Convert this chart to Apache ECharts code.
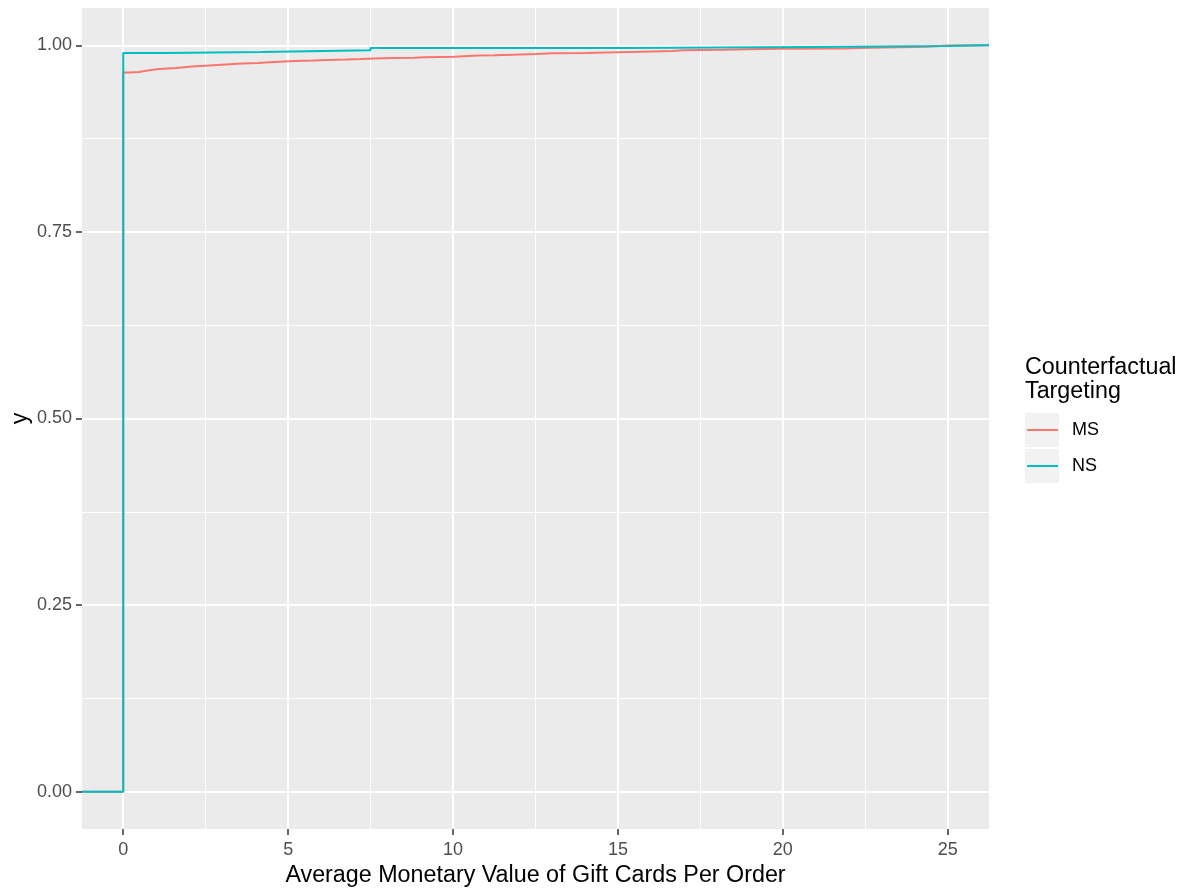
<!DOCTYPE html>
<html>
<head>
<meta charset="utf-8">
<title>ECDF of gift card value per order</title>
<script src="https://cdn.jsdelivr.net/npm/echarts@6/dist/echarts.min.js"></script>
<style>
  html, body { margin: 0; padding: 0; background: #ffffff; }
  #chart { width: 1186px; height: 893px; }
</style>
</head>
<body>
<div id="chart"></div>
<script>
// Axis extents (ggplot-style 5% expansion around the data range)
const xMin = -1.25, xMax = 26.25;
const yMin = -0.05, yMax = 1.05;

// Tick positions
const xMajorTicks = [0, 5, 10, 15, 20, 25];
const xMinorTicks = [2.5, 7.5, 12.5, 17.5, 22.5];
const yMajorTicks = [0, 0.25, 0.5, 0.75, 1];
const yMinorTicks = [0.125, 0.375, 0.625, 0.875];

// Series names
const seriesNames = ['MS', 'NS'];

// Empirical CDF step points: MS
const msX = [xMin, 0, 0.18, 0.48, 0.79, 1.09, 1.6, 2.1, 2.6, 3.1, 3.6, 4.1, 4.43, 4.73, 5.2, 5.74, 6.2,
  6.75, 7.2, 7.61, 8.2, 8.83, 9.13, 10.04, 10.75, 11.25, 11.81, 12.52, 13.02, 14.08, 14.33, 15.29,
  15.7, 16.66, 16.96, 17.52, 18.23, 19.39, 20.0, 21.87, 22.26, 24.36, 25.0, xMax];
const msY = [0, 0.9635, 0.9643, 0.9665, 0.9683, 0.9696, 0.9715, 0.9728, 0.9742, 0.9755, 0.9763, 0.9772,
  0.9780, 0.9790, 0.9796, 0.9803, 0.9810, 0.9817, 0.9824, 0.9830, 0.9835, 0.9839, 0.9848, 0.9862,
  0.9866, 0.9875, 0.9884, 0.9893, 0.9897, 0.9902, 0.9911, 0.9915, 0.9924, 0.9933, 0.9938, 0.9942,
  0.9951, 0.9955, 0.9958, 0.9964, 0.9982, 0.9996, 1.0, 1.0];

// Empirical CDF step points: NS
const nsX = [xMin, 0, 1.3, 4.17, 7.5, 15.3, 20.9, 25.0, xMax];
const nsY = [0, 0.9898, 0.9910, 0.9935, 0.9963, 0.9977, 0.9990, 1.0, 1.0];

const colors = ['#F8766D', '#00BFC4'];
const FONT = '"Liberation Sans", Arial, sans-serif';

const zip = (xs, ys) => xs.map((x, i) => [x, ys[i]]);

const chart = echarts.init(document.getElementById('chart'), null, { renderer: 'canvas' });

chart.setOption({
  animation: false,
  backgroundColor: '#ffffff',
  textStyle: { fontFamily: FONT },
  grid: {
    left: 82, top: 8, width: 907, height: 821,
    containLabel: false, outerBoundsMode: 'none',
    show: true, backgroundColor: '#EBEBEB', borderWidth: 0
  },
  xAxis: [
    // minor grid lines
    {
      type: 'value', min: xMin, max: xMax, position: 'bottom',
      axisLine: { show: false, onZero: false },
      axisLabel: { show: false },
      axisTick: { show: false, customValues: xMinorTicks },
      splitLine: { show: true, lineStyle: { color: '#ffffff', width: 1 } }
    },
    // major ticks, labels and grid lines
    {
      type: 'value', min: xMin, max: xMax, position: 'bottom',
      name: 'Average Monetary Value of Gift Cards Per Order',
      nameLocation: 'middle', nameGap: 33,
      nameTextStyle: { fontSize: 23.3, color: '#000000', fontFamily: FONT },
      axisLine: { show: false, onZero: false },
      axisTick: { show: true, length: 6, customValues: xMajorTicks, lineStyle: { color: '#333333', width: 1.5 } },
      axisLabel: { show: true, customValues: xMajorTicks, margin: 12, fontSize: 18, color: '#4D4D4D', fontFamily: FONT },
      splitLine: { show: true, lineStyle: { color: '#ffffff', width: 2 } }
    }
  ],
  yAxis: [
    {
      type: 'value', min: yMin, max: yMax, position: 'left',
      axisLine: { show: false, onZero: false },
      axisLabel: { show: false },
      axisTick: { show: false, customValues: yMinorTicks },
      splitLine: { show: true, lineStyle: { color: '#ffffff', width: 1 } }
    },
    {
      type: 'value', min: yMin, max: yMax, position: 'left',
      name: 'y', nameLocation: 'middle', nameGap: 50, nameRotate: 90, nameMoveOverlap: false,
      nameTextStyle: { fontSize: 23.3, color: '#000000', fontFamily: FONT },
      axisLine: { show: false, onZero: false },
      axisTick: { show: true, length: 6, customValues: yMajorTicks, lineStyle: { color: '#333333', width: 1.5 } },
      axisLabel: { show: true, customValues: yMajorTicks, margin: 10, fontSize: 18, color: '#4D4D4D', fontFamily: FONT,
        formatter: v => v.toFixed(2) },
      splitLine: { show: true, lineStyle: { color: '#ffffff', width: 2 } }
    }
  ],
  legend: {
    orient: 'vertical', left: 1027, top: 413, padding: 0,
    icon: 'rect', itemWidth: 31, itemHeight: 2, itemGap: 2,
    data: seriesNames,
    textStyle: { fontSize: 18, lineHeight: 34, color: '#000000', fontFamily: FONT, padding: [0, 0, 0, 9] }
  },
  graphic: [
    { type: 'text', left: 1025, top: 356, z: 10,
      style: { text: 'Counterfactual\nTargeting', fontSize: 23.3, lineHeight: 23.5, fill: '#000000', fontFamily: FONT } },
    { type: 'rect', left: 1025, top: 413, z: -1, shape: { width: 34, height: 34 }, style: { fill: '#F2F2F2' } },
    { type: 'rect', left: 1025, top: 449, z: -1, shape: { width: 34, height: 34 }, style: { fill: '#F2F2F2' } }
  ],
  series: [
    { name: seriesNames[0], type: 'line', step: 'end', xAxisIndex: 1, yAxisIndex: 1,
      data: zip(msX, msY), showSymbol: false, symbol: 'none',
      lineStyle: { color: colors[0], width: 2 }, itemStyle: { color: colors[0] } },
    { name: seriesNames[1], type: 'line', step: 'end', xAxisIndex: 1, yAxisIndex: 1,
      data: zip(nsX, nsY), showSymbol: false, symbol: 'none',
      lineStyle: { color: colors[1], width: 2 }, itemStyle: { color: colors[1] } }
  ]
});
</script>
</body>
</html>
